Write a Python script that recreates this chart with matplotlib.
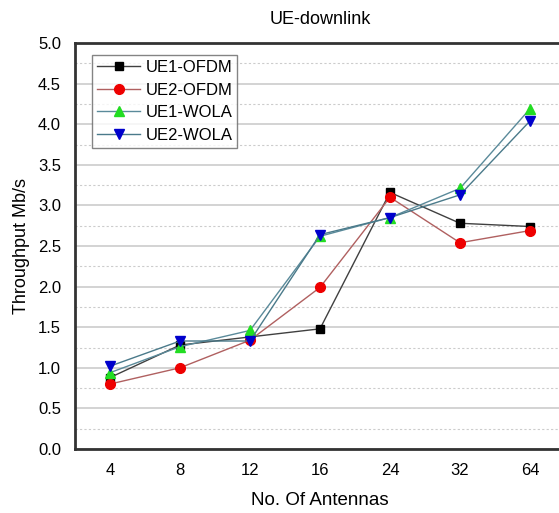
import matplotlib
matplotlib.use("Agg")
import matplotlib.pyplot as plt
import numpy as np

antennas = ["4", "8", "12", "16", "24", "32", "64"]
ue1_ofdm = [0.88, 1.28, 1.38, 1.48, 3.16, 2.78, 2.74]
ue2_ofdm = [0.80, 1.00, 1.34, 1.99, 3.10, 2.54, 2.69]
ue1_wola = [0.94, 1.26, 1.46, 2.62, 2.85, 3.21, 4.19]
ue2_wola = [1.02, 1.33, 1.33, 2.64, 2.85, 3.13, 4.04]

plt.rcParams['font.family'] = ['Liberation Sans', 'DejaVu Sans']

fig = plt.figure(figsize=(5.59, 5.13), dpi=100)
ax = fig.add_axes([75/559, 64/513, 490/559, 406/513])
x = np.arange(len(antennas))

ax.plot(x, ue1_ofdm, color='#404040', lw=1.0, marker='s', ms=6,
        mfc='black', mec='black', label='UE1-OFDM', zorder=3)
ax.plot(x, ue2_ofdm, color='#b06060', lw=1.0, marker='o', ms=7,
        mfc='#ee0000', mec='#ee0000', label='UE2-OFDM', zorder=3)
ax.plot(x, ue1_wola, color='#5a8a9a', lw=1.0, marker='^', ms=7,
        mfc='#22dd22', mec='#22dd22', label='UE1-WOLA', zorder=3)
ax.plot(x, ue2_wola, color='#4a7a8a', lw=1.0, marker='v', ms=7,
        mfc='#0000cc', mec='#0000cc', label='UE2-WOLA', zorder=4)

ax.set_xlim(-0.5, 6.5)
ax.set_ylim(0, 5.0)
ax.set_xticks(x)
ax.set_xticklabels(antennas)
ax.set_yticks(np.arange(0, 5.01, 0.5))
ax.set_yticklabels([f"{v:.1f}" for v in np.arange(0, 5.01, 0.5)])
ax.set_yticks(np.arange(0.25, 5.0, 0.5), minor=True)
ax.yaxis.grid(True, which='major', color='#cccccc', lw=1.2)
ax.yaxis.grid(True, which='minor', color='#cccccc', lw=0.8, ls=(0, (2, 2)))
ax.set_axisbelow(True)
ax.tick_params(axis='both', which='both', length=0, labelsize=12, pad=10)
ax.tick_params(axis='y', pad=10)

for s in ['top', 'bottom', 'left']:
    ax.spines[s].set_color('#333333')
    ax.spines[s].set_linewidth(2.0)
ax.spines['right'].set_visible(False)

ax.set_title('UE-downlink', fontsize=13, pad=14)
ax.set_xlabel('No. Of Antennas', fontsize=13.5, labelpad=10)
ax.set_ylabel('Throughput Mb/s', fontsize=13, labelpad=6)

leg = ax.legend(loc='upper left', bbox_to_anchor=(0.035, 0.97), fontsize=12,
                frameon=True, fancybox=False, edgecolor='#666666',
                borderpad=0.3, labelspacing=0.45, handlelength=2.6,
                handletextpad=0.3, borderaxespad=0)
leg.get_frame().set_linewidth(1.0)

fig.savefig('out.png', dpi=100)
